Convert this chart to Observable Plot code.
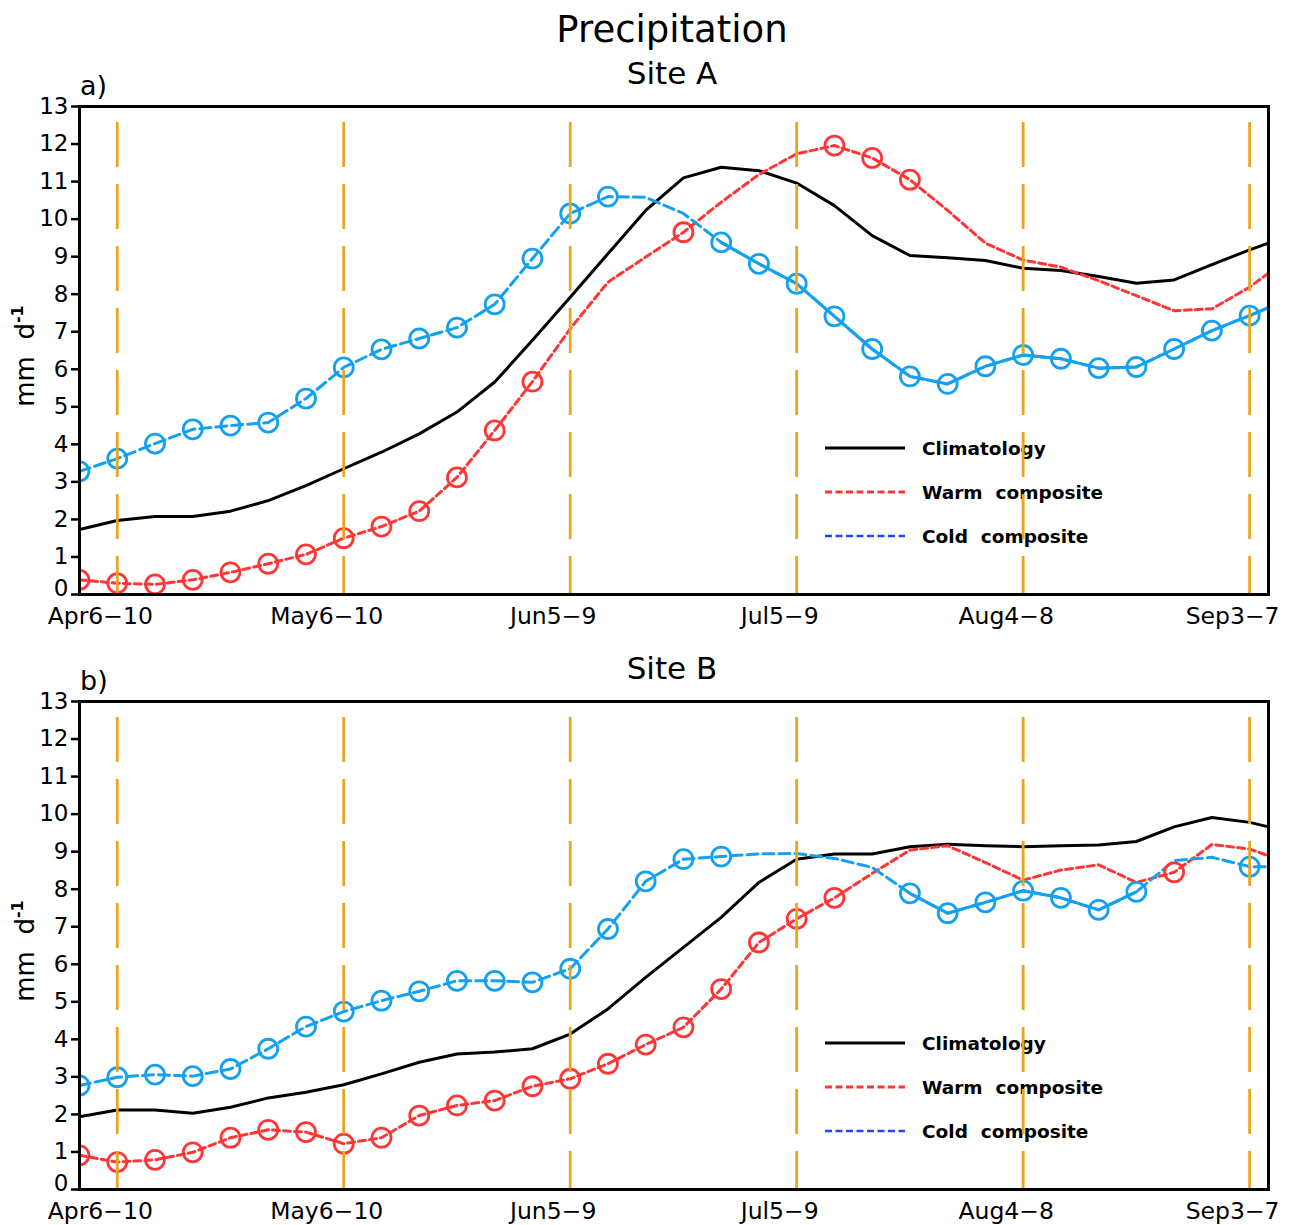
<!DOCTYPE html>
<html>
<head>
<meta charset="utf-8">
<script src="https://cdn.jsdelivr.net/npm/d3@7"></script>
<script src="https://cdn.jsdelivr.net/npm/@observablehq/plot@0.6"></script>
<style>
  html, body { margin: 0; padding: 0; background: #fff; }
  #page { position: relative; width: 1295px; height: 1225px; overflow: hidden; font-family: "DejaVu Sans", sans-serif; }
  #page > svg { position: absolute; left: 0; }
</style>
</head>
<body>
<div id="page"></div>
<script>
// ---------- data ----------
// pentad index: 0 = Apr1-5 ... 31 = Sep3-7, 31.5 = right edge of the frame
const pentad = [0,1,2,3,4,5,6,7,8,9,10,11,12,13,14,15,16,17,18,19,20,21,22,23,24,25,26,27,28,29,30,31,31.5];
const tickPentads = [1, 7, 13, 19, 25, 31];
const tickLabels = ["Apr6\u221210", "May6\u221210", "Jun5\u22129", "Jul5\u22129", "Aug4\u22128", "Sep3\u22127"];
const yTicks = [0,1,2,3,4,5,6,7,8,9,10,11,12,13];
const seriesNames = ["Climatology", "Warm  composite", "Cold  composite"];

// Site A (mm/day)
const climA = [1.73,1.97,2.08,2.08,2.22,2.50,2.90,3.35,3.79,4.28,4.86,5.66,6.77,7.92,9.08,10.23,11.10,11.38,11.29,10.96,10.36,9.56,9.03,8.97,8.90,8.69,8.63,8.47,8.29,8.38,8.79,9.18,9.36];
const warmA = [0.39,0.30,0.27,0.39,0.59,0.82,1.07,1.50,1.81,2.22,3.12,4.37,5.67,7.08,8.32,8.99,9.65,10.45,11.19,11.74,11.96,11.63,11.05,10.23,9.36,8.91,8.72,8.36,7.96,7.56,7.61,8.19,8.56];
const coldA = [3.28,3.62,4.02,4.40,4.50,4.58,5.22,6.05,6.53,6.82,7.11,7.73,8.95,10.15,10.60,10.58,10.15,9.38,8.81,8.28,7.41,6.54,5.81,5.61,6.08,6.38,6.28,6.03,6.06,6.54,7.03,7.43,7.64];
const warmSigA = [0,1,2,3,4,5,6,7,8,9,10,11,12,16,20,21,22];
const coldSigA = [0,1,2,3,4,5,6,7,8,9,10,11,12,13,14,17,18,19,20,21,22,23,24,25,26,27,28,29,30,31];
const coldSolidA = [17, 32];

// Site B (mm/day)
const climB = [1.94,2.12,2.12,2.03,2.19,2.44,2.59,2.79,3.08,3.39,3.61,3.66,3.75,4.14,4.81,5.65,6.45,7.25,8.18,8.80,8.94,8.94,9.13,9.20,9.16,9.13,9.16,9.18,9.27,9.66,9.91,9.78,9.66];
const warmB = [0.91,0.73,0.79,0.99,1.38,1.59,1.53,1.22,1.38,1.97,2.24,2.37,2.75,2.95,3.35,3.86,4.32,5.34,6.58,7.21,7.77,8.42,9.04,9.16,8.71,8.24,8.51,8.65,8.18,8.45,9.19,9.07,8.89];
const coldB = [2.77,2.99,3.06,3.02,3.21,3.75,4.34,4.74,5.03,5.28,5.56,5.56,5.52,5.88,6.94,8.21,8.80,8.87,8.94,8.95,8.82,8.58,7.89,7.36,7.65,7.96,7.77,7.45,7.93,8.76,8.85,8.60,8.60];
const warmSigB = [0,1,2,3,4,5,6,7,8,9,10,11,12,13,14,15,16,17,18,19,20,29];
const coldSigB = [0,1,2,3,4,5,6,7,8,9,10,11,12,13,14,15,16,17,22,23,24,25,26,27,28,31];
const coldSolidB = [22, 28];

// ---------- styles ----------
const C_CLIM = "#000000";
const C_WARM = "#ff3636";
const C_COLD = "#14a0f0";
const C_LEG_COLD = "#2244ff";
const C_RULE = "#e8a51d";

const page = document.getElementById("page");
const NS = "http://www.w3.org/2000/svg";

function rows(vals) { return pentad.map((x, i) => ({x, v: vals[i], i})); }

function makePanel(opts) {
  const clim = rows(opts.clim), warm = rows(opts.warm), cold = rows(opts.cold);
  const svg = Plot.plot({
    width: 1295,
    height: opts.height,
    marginLeft: 79,
    marginRight: 27,
    marginTop: opts.marginTop,
    marginBottom: opts.marginBottom,
    style: {background: "transparent", overflow: "visible", fontFamily: "DejaVu Sans, sans-serif", color: "#000"},
    x: {domain: [0, 31.5]},
    y: {domain: [0, 13]},
    marks: [
      Plot.line(clim, {x: "x", y: "v", stroke: C_CLIM, strokeWidth: 3}),
      Plot.line(warm, {x: "x", y: "v", stroke: C_WARM, strokeWidth: 3, strokeDasharray: "7,4"}),
      Plot.line(cold, {x: "x", y: "v", stroke: C_COLD, strokeWidth: 3, strokeDasharray: "11,5"}),
      Plot.line(cold.filter(d => d.i >= opts.coldSolid[0] && d.i <= opts.coldSolid[1]),
        {x: "x", y: "v", stroke: C_COLD, strokeWidth: 3}),
      Plot.dot(warm.filter(d => opts.warmSig.includes(d.i)),
        {x: "x", y: "v", r: 9.5, stroke: C_WARM, strokeWidth: 2.8, fill: "none", clip: true}),
      Plot.dot(cold.filter(d => opts.coldSig.includes(d.i)),
        {x: "x", y: "v", r: 9.5, stroke: C_COLD, strokeWidth: 2.8, fill: "none", clip: true}),
      Plot.ruleX(tickPentads, {stroke: C_RULE, strokeWidth: 2.8, strokeDasharray: "45,17", strokeDashoffset: 46}),
      Plot.frame({stroke: "#000", strokeWidth: 3}),
      Plot.axisY(yTicks, {tickSize: 8, tickPadding: 3, fontSize: 23, strokeWidth: 2.5, label: null,
        tickFormat: d => d === 0 ? "" : String(d)}),
      // the "0" label sits a little higher so it clears the first date label
      Plot.text([0], {y: d => d, text: d => String(d), frameAnchor: "left", textAnchor: "end",
        dx: -11, dy: -6, fontSize: 23, fill: "#000"}),
      Plot.axisX(tickPentads, {tickSize: 0, tickPadding: 13, fontSize: 23.5, dx: -17, label: null,
        tickFormat: d => tickLabels[tickPentads.indexOf(d)]})
    ]
  });
  svg.style.top = opts.top + "px";
  return svg;
}

// ---------- background text layer (titles, labels, legends) ----------
const bg = document.createElementNS(NS, "svg");
bg.setAttribute("width", 1295);
bg.setAttribute("height", 1225);
bg.style.top = "0px";
bg.setAttribute("font-family", "DejaVu Sans, sans-serif");
page.appendChild(bg);

function addText(x, y, str, size, anchor, weight) {
  const t = document.createElementNS(NS, "text");
  t.setAttribute("x", x); t.setAttribute("y", y);
  t.setAttribute("font-size", size);
  t.setAttribute("text-anchor", anchor || "start");
  if (weight) t.setAttribute("font-weight", weight);
  t.setAttribute("fill", "#000");
  t.setAttribute("xml:space", "preserve");
  t.style.whiteSpace = "pre";
  t.textContent = str;
  bg.appendChild(t);
  return t;
}
function addUnits(cx, cy) {
  const t = document.createElementNS(NS, "text");
  t.setAttribute("transform", `translate(${cx},${cy}) rotate(-90)`);
  t.setAttribute("text-anchor", "middle");
  t.setAttribute("font-size", 26);
  t.setAttribute("fill", "#000");
  t.style.whiteSpace = "pre";
  t.appendChild(document.createTextNode("mm  d"));
  const s = document.createElementNS(NS, "tspan");
  s.setAttribute("dy", -11);
  s.setAttribute("font-size", 16);
  s.setAttribute("font-weight", "bold");
  s.textContent = "-1";
  t.appendChild(s);
  bg.appendChild(t);
}
function addLegend(top) {
  const styles = [
    {stroke: C_CLIM, dash: null, w: 3},
    {stroke: C_WARM, dash: "7,3.5", w: 3},
    {stroke: C_LEG_COLD, dash: "7,3.5", w: 2.6}
  ];
  styles.forEach((s, k) => {
    const y = top + k * 44;
    const l = document.createElementNS(NS, "line");
    l.setAttribute("x1", 825); l.setAttribute("x2", 905);
    l.setAttribute("y1", y); l.setAttribute("y2", y);
    l.setAttribute("stroke", s.stroke);
    l.setAttribute("stroke-width", s.w);
    if (s.dash) l.setAttribute("stroke-dasharray", s.dash);
    bg.appendChild(l);
    addText(922, y + 7, seriesNames[k], 18.5, "start", "bold");
  });
}

addText(672, 42, "Precipitation", 37, "middle");
addText(672, 84, "Site A", 31, "middle");
addText(80, 95, "a)", 27, "start");
addText(672, 679, "Site B", 31, "middle");
addText(80, 690, "b)", 27, "start");
addUnits(34, 356);
addUnits(34, 951);
addLegend(448);
addLegend(1043);

// ---------- panels ----------
page.appendChild(makePanel({
  top: 80, height: 560, marginTop: 26, marginBottom: 46,
  clim: climA, warm: warmA, cold: coldA,
  warmSig: warmSigA, coldSig: coldSigA, coldSolid: coldSolidA
}));
page.appendChild(makePanel({
  top: 675, height: 550, marginTop: 26, marginBottom: 36,
  clim: climB, warm: warmB, cold: coldB,
  warmSig: warmSigB, coldSig: coldSigB, coldSolid: coldSolidB
}));
</script>
</body>
</html>
